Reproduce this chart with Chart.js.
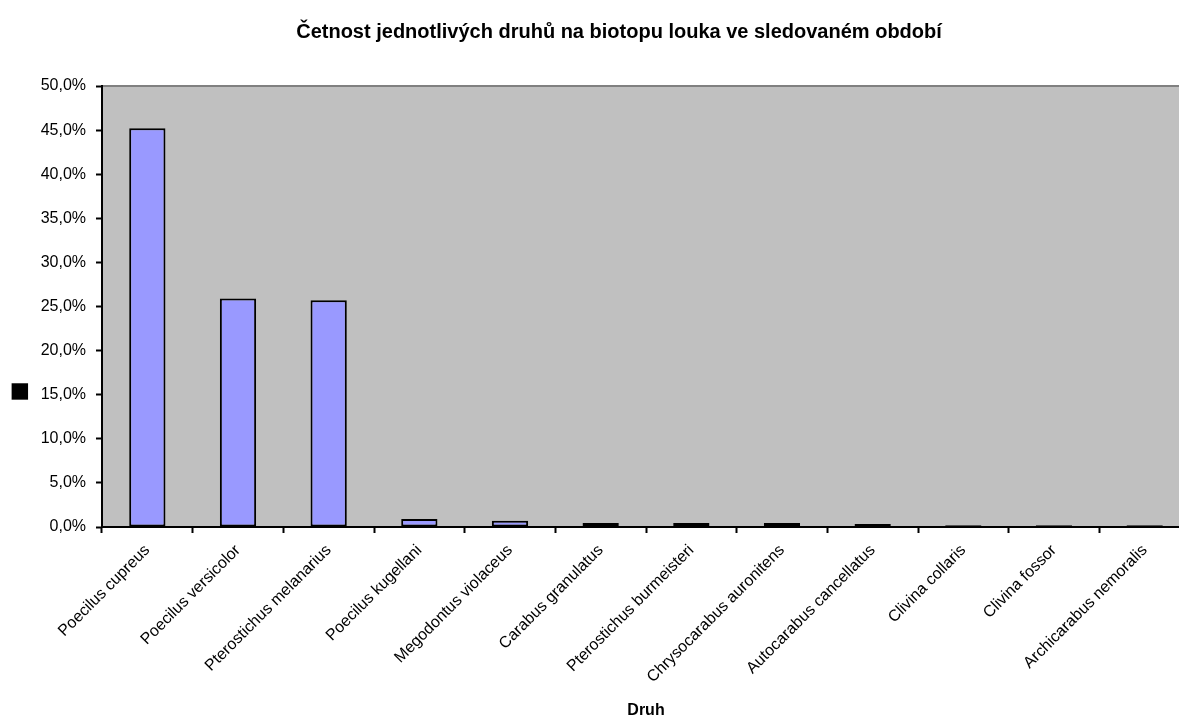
<!DOCTYPE html>
<html>
<head>
<meta charset="utf-8">
<script src="https://cdn.jsdelivr.net/npm/chart.js@4/dist/chart.umd.min.js"></script>
<style>
  html, body { margin: 0; padding: 0; background: #fff; overflow: hidden; }
  canvas { display: block; }
</style>
</head>
<body>
<canvas id="chart" width="1238" height="718"></canvas>
<script>
// Druhy (kategorie) a jejich četnost v %
const druhy = [
    'Poecilus cupreus',
    'Poecilus versicolor',
    'Pterostichus melanarius',
    'Poecilus kugellani',
    'Megodontus violaceus',
    'Carabus granulatus',
    'Pterostichus burmeisteri',
    'Chrysocarabus auronitens',
    'Autocarabus cancellatus',
    'Clivina collaris',
    'Clivina fossor',
    'Archicarabus nemoralis'
];
const cetnost = [45.2, 25.9, 25.7, 0.9, 0.7, 0.45, 0.45, 0.45, 0.35, 0.2, 0.2, 0.2];

// Osa Y: 0 až 50 % po 5 %
const yMin = 0;
const yMax = 50;
const yKrok = 5;

const nazevGrafu = 'Četnost jednotlivých druhů na biotopu louka ve sledovaném období';
const nazevOsyX = 'Druh';
// popisek osy Y je v originále jen rozbitý znak, posunutý níž
const nazevOsyY = '■' + ' '.repeat(18);

// Šedé pozadí plochy grafu
const pozadiPlochy = {
    id: 'pozadiPlochy',
    beforeDraw(chart) {
        const { ctx, chartArea } = chart;
        ctx.save();
        ctx.fillStyle = '#c0c0c0';
        ctx.fillRect(chartArea.left, chartArea.top, chartArea.right - chartArea.left, chartArea.bottom - chartArea.top);
        ctx.strokeStyle = '#808080';
        ctx.lineWidth = 2;
        ctx.beginPath();
        ctx.moveTo(chartArea.left, chartArea.top);
        ctx.lineTo(chartArea.right, chartArea.top);
        ctx.lineTo(chartArea.right, chartArea.bottom);
        ctx.stroke();
        ctx.restore();
    }
};

Chart.defaults.font.family = '"Liberation Sans", Arial, sans-serif';
Chart.defaults.color = '#000';

new Chart(document.getElementById('chart'), {
    type: 'bar',
    data: {
        labels: druhy,
        datasets: [{
            data: cetnost,
            backgroundColor: '#9999ff',
            borderColor: '#000',
            borderWidth: 2,
            borderSkipped: false,
            barPercentage: 0.4,
            categoryPercentage: 1.0
        }]
    },
    options: {
        responsive: false,
        animation: false,
        layout: { padding: { left: 0, right: 0, top: 0, bottom: 0 } },
        plugins: {
            legend: { display: false },
            tooltip: { enabled: false },
            title: {
                display: true,
                text: nazevGrafu,
                font: { size: 20, weight: 'bold' },
                padding: { top: 20, bottom: 42 }
            }
        },
        scales: {
            x: {
                grid: {
                    offset: true,
                    drawOnChartArea: false,
                    drawTicks: true,
                    tickLength: 6,
                    tickWidth: 2,
                    color: '#000'
                },
                border: { color: '#000', width: 2 },
                ticks: {
                    font: { size: 16 },
                    maxRotation: 45,
                    minRotation: 45,
                    padding: 8,
                    autoSkip: false
                },
                title: {
                    display: true,
                    text: nazevOsyX,
                    font: { size: 16, weight: 'bold' },
                    padding: { top: 0, bottom: -2 }
                },
                afterFit(scale) {
                    scale.height = 191;
                    scale.paddingRight = 48;
                }
            },
            y: {
                min: yMin,
                max: yMax,
                grid: {
                    drawOnChartArea: false,
                    drawTicks: true,
                    tickLength: 6,
                    tickWidth: 2,
                    color: '#000'
                },
                border: { color: '#000', width: 2 },
                ticks: {
                    stepSize: yKrok,
                    font: { size: 16 },
                    padding: 10,
                    callback: v => v.toFixed(1).replace('.', ',') + '%'
                },
                title: {
                    display: true,
                    text: nazevOsyY,
                    font: { size: 34 },
                    padding: { top: 0, bottom: 0 }
                },
                afterFit(scale) { scale.width = 102; }
            }
        }
    },
    plugins: [pozadiPlochy]
});
</script>
</body>
</html>
